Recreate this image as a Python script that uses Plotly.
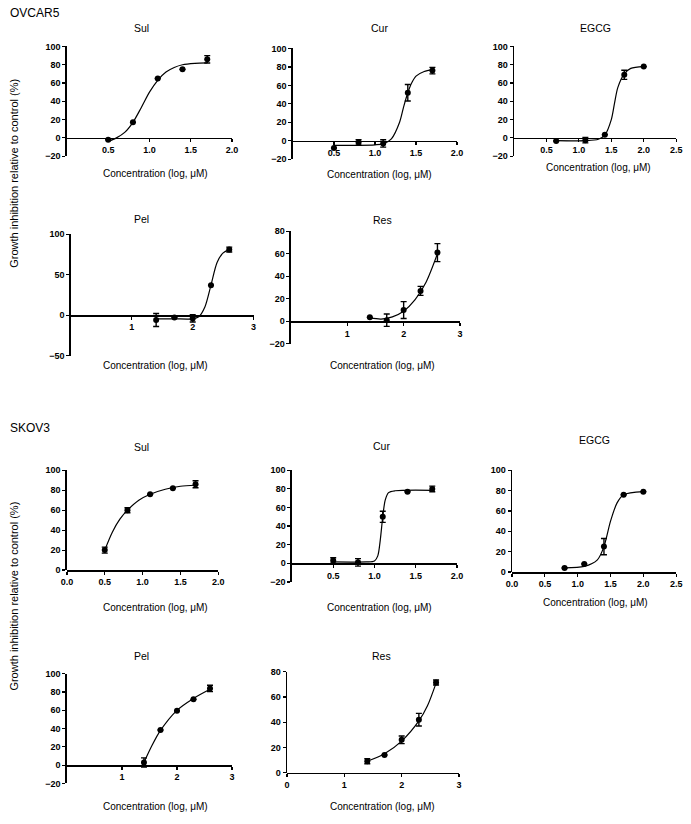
import plotly.graph_objects as go

W, H = 691, 824

# ---------------- data (log concentration, growth inhibition %) ----------------
# OVCAR5
o_sul_x = [0.5, 0.8, 1.1, 1.4, 1.7]
o_sul_y = [-2, 17, 65, 75, 86]
o_sul_e = [None, None, None, None, 4]
o_sul_cx = [0.5, 0.6, 0.7, 0.8, 0.9, 1.0, 1.1, 1.2, 1.3, 1.4, 1.55, 1.7]
o_sul_cy = [-4, 0, 6, 17, 33, 50, 63, 72, 77, 80, 81.5, 82]

o_cur_x = [0.5, 0.8, 1.1, 1.4, 1.7]
o_cur_y = [-8, -2, -3, 52, 76]
o_cur_e = [None, 3, 4, 9, 3.5]
o_cur_cx = [0.5, 0.8, 1.0, 1.1, 1.2, 1.3, 1.35, 1.4, 1.45, 1.5, 1.6, 1.7]
o_cur_cy = [-5, -5, -4.5, -3.5, 2, 20, 37, 52, 63, 70, 75, 77]

o_egcg_x = [0.65, 1.1, 1.4, 1.7, 2.0]
o_egcg_y = [-3.5, -2.5, 3.5, 69, 78]
o_egcg_e = [None, 3, None, 5, None]
o_egcg_cx = [0.65, 1.1, 1.3, 1.4, 1.5, 1.55, 1.6, 1.7, 1.8, 2.0]
o_egcg_cy = [-3, -3, -1.5, 3, 20, 38, 55, 70, 76, 78]

o_pel_x = [1.4, 1.7, 2.0, 2.3, 2.6]
o_pel_y = [-6, -3, -4, 37, 81]
o_pel_e = [8, None, 4.5, None, 3]
o_pel_cx = [1.4, 1.7, 2.0, 2.1, 2.2, 2.3, 2.4, 2.5, 2.6]
o_pel_cy = [-4.5, -4.5, -4.5, -2, 10, 37, 65, 77, 81]

o_res_x = [1.4, 1.7, 2.0, 2.3, 2.6]
o_res_y = [3.5, 1, 10, 27, 61]
o_res_e = [None, 5.5, 7.5, 4, 8]
o_res_cx = [1.4, 1.6, 1.8, 2.0, 2.2, 2.4, 2.6]
o_res_cy = [3, 2, 4, 9, 19, 35, 60]

# SKOV3
s_sul_x = [0.5, 0.8, 1.1, 1.4, 1.7]
s_sul_y = [20, 60, 76, 82, 86]
s_sul_e = [3, 2.5, None, None, 3.5]
s_sul_cx = [0.5, 0.6, 0.7, 0.8, 0.95, 1.1, 1.3, 1.5, 1.7]
s_sul_cy = [20, 38, 51, 60, 70, 76, 81, 84, 85]

s_cur_x = [0.5, 0.8, 1.1, 1.4, 1.7]
s_cur_y = [3, 1, 50, 77, 80]
s_cur_e = [3, 4, 6, None, 3]
s_cur_cx = [0.5, 0.9, 1.0, 1.04, 1.07, 1.1, 1.13, 1.17, 1.25, 1.7]
s_cur_cy = [1.5, 1.5, 2.5, 8, 25, 50, 68, 76, 78, 78.5]

s_egcg_x = [0.8, 1.1, 1.4, 1.7, 2.0]
s_egcg_y = [4, 8, 25, 76, 79]
s_egcg_e = [None, None, 8, None, None]
s_egcg_cx = [0.8, 1.1, 1.3, 1.4, 1.5, 1.6, 1.7, 2.0]
s_egcg_cy = [4, 5.5, 12, 25, 50, 68, 76, 79]

s_pel_x = [1.4, 1.7, 2.0, 2.3, 2.6]
s_pel_y = [3, 38.5, 59.5, 72, 84]
s_pel_e = [5, None, None, None, 3.5]
s_pel_cx = [1.4, 1.55, 1.7, 2.0, 2.3, 2.6]
s_pel_cy = [3, 22, 38, 60, 73, 83]

s_res_x = [1.4, 1.7, 2.0, 2.3, 2.6]
s_res_y = [9, 14, 26, 42, 71.5]
s_res_e = [2, None, 3, 5, 2]
s_res_cx = [1.4, 1.7, 2.0, 2.3, 2.45, 2.6]
s_res_cy = [9, 15, 25, 41, 53, 71]

titles = ["Sul", "Cur", "EGCG", "Pel", "Res", "Sul", "Cur", "EGCG", "Pel", "Res"]
x_ranges = [[0, 2.0], [0, 2.0], [0, 2.5], [0, 3], [0, 3],
            [0, 2.0], [0, 2.0], [0, 2.5], [0, 3], [0, 3]]
y_ranges = [[-20, 100], [-20, 100], [-20, 100], [-50, 100], [-20, 80],
            [0, 100], [-20, 100], [0, 100], [-20, 100], [0, 80]]
y_dticks = [20, 20, 20, 50, 20, 20, 20, 20, 20, 20]
x_tickvals = [[0.5, 1.0, 1.5, 2.0], [0.5, 1.0, 1.5, 2.0], [0.5, 1.0, 1.5, 2.0, 2.5],
              [1, 2, 3], [1, 2, 3],
              [0.0, 0.5, 1.0, 1.5, 2.0], [0.5, 1.0, 1.5, 2.0], [0.0, 0.5, 1.0, 1.5, 2.0, 2.5],
              [1, 2, 3], [0, 1, 2, 3]]
x_tickformats = [".1f", ".1f", ".1f", "d", "d", ".1f", ".1f", ".1f", "d", "d"]

panels = [
    (o_sul_x, o_sul_y, o_sul_e, o_sul_cx, o_sul_cy),
    (o_cur_x, o_cur_y, o_cur_e, o_cur_cx, o_cur_cy),
    (o_egcg_x, o_egcg_y, o_egcg_e, o_egcg_cx, o_egcg_cy),
    (o_pel_x, o_pel_y, o_pel_e, o_pel_cx, o_pel_cy),
    (o_res_x, o_res_y, o_res_e, o_res_cx, o_res_cy),
    (s_sul_x, s_sul_y, s_sul_e, s_sul_cx, s_sul_cy),
    (s_cur_x, s_cur_y, s_cur_e, s_cur_cx, s_cur_cy),
    (s_egcg_x, s_egcg_y, s_egcg_e, s_egcg_cx, s_egcg_cy),
    (s_pel_x, s_pel_y, s_pel_e, s_pel_cx, s_pel_cy),
    (s_res_x, s_res_y, s_res_e, s_res_cx, s_res_cy),
]

# ---------------- layout (pixel boxes: left, right, top, bottom) ----------------
boxes = [
    (62, 230, 42, 153), (292, 459, 44, 156), (517, 682, 42, 153),
    (66, 252, 232, 355), (290, 462, 229, 343),
    (62, 216, 471, 572), (291, 459, 471, 584), (515, 682, 471, 574),
    (62, 230, 677, 788), (286, 461, 675, 777),
]
title_pos = [(138, 23), (380, 23), (600, 23), (138, 217), (383, 218),
             (138, 447), (382, 446), (599, 440), (138, 659), (382, 659)]
xlabel_pos = [(152, 171), (380, 172), (603, 164), (152, 365), (383, 365),
              (152, 610), (380, 610), (600, 605), (152, 811), (383, 811)]

FONT = "Liberation Sans, Arial, sans-serif"
tickfont = dict(family=FONT, size=9, color="black", weight="bold")

fig = go.Figure()
layout = {}
annotations = []

for i, (px, py, pe, cx, cy) in enumerate(panels):
    n = "" if i == 0 else str(i + 1)
    xa, ya = "x" + n, "y" + n
    fig.add_trace(go.Scatter(x=cx, y=cy, mode="lines",
                             line=dict(color="black", width=1.2, shape="spline", smoothing=0.8),
                             xaxis=xa, yaxis=ya, hoverinfo="skip", showlegend=False))
    fig.add_trace(go.Scatter(x=px, y=py, mode="markers",
                             marker=dict(color="black", size=6),
                             error_y=dict(type="data", array=pe, color="black",
                                          thickness=1.4, width=3),
                             xaxis=xa, yaxis=ya, showlegend=False))
    x0, x1, y0, y1 = boxes[i]
    yr = y_ranges[i]
    dom_y = [1 - y1 / H, 1 - y0 / H]
    frac = (0 - yr[0]) / (yr[1] - yr[0])
    pos = dom_y[0] + frac * (dom_y[1] - dom_y[0])
    layout["xaxis" + n] = dict(
        domain=[x0 / W, x1 / W], range=x_ranges[i], anchor="free", position=pos,
        showline=True, linecolor="black", linewidth=1.5,
        ticks="outside", ticklen=3, tickwidth=1.2, tickcolor="black",
        tickvals=x_tickvals[i], tickformat=x_tickformats[i], tickfont=tickfont,
        showgrid=False, zeroline=False, fixedrange=True)
    layout["yaxis" + n] = dict(
        domain=dom_y, range=yr, anchor=xa,
        showline=True, linecolor="black", linewidth=1.5,
        ticks="outside", ticklen=3, tickwidth=1.2, tickcolor="black",
        dtick=y_dticks[i], tick0=0, tickfont=tickfont,
        showgrid=False, zeroline=False, fixedrange=True)
    tx, ty = title_pos[i]
    annotations.append(dict(text=titles[i], x=tx / W, y=1 - ty / H, xref="paper", yref="paper",
                            showarrow=False, xanchor="center", yanchor="middle",
                            font=dict(family=FONT, size=10.5, color="black")))
    lx, ly = xlabel_pos[i]
    annotations.append(dict(text="Concentration (log, μM)", x=lx / W, y=1 - ly / H,
                            xref="paper", yref="paper", showarrow=False,
                            xanchor="center", yanchor="middle",
                            font=dict(family=FONT, size=10, color="black")))

for label, y in [("OVCAR5", 8), ("SKOV3", 428)]:
    annotations.append(dict(text=label, x=2 / W, y=1 - y / H, xref="paper", yref="paper",
                            showarrow=False, xanchor="left", yanchor="middle",
                            font=dict(family=FONT, size=12, color="black")))
for y in [170, 598]:
    annotations.append(dict(text="Growth inhibition relative to control (%)", x=8 / W,
                            y=1 - y / H, xref="paper", yref="paper", showarrow=False,
                            textangle=-90, xanchor="center", yanchor="middle",
                            font=dict(family=FONT, size=11, color="black")))

fig.update_layout(**layout)
fig.update_layout(width=W, height=H, margin=dict(l=0, r=0, t=0, b=0),
                  paper_bgcolor="white", plot_bgcolor="white",
                  annotations=annotations, showlegend=False)
fig.write_html("out.html", config={"displayModeBar": False, "staticPlot": True},
               post_script="document.body.style.margin='0';document.body.style.overflow='hidden';")
